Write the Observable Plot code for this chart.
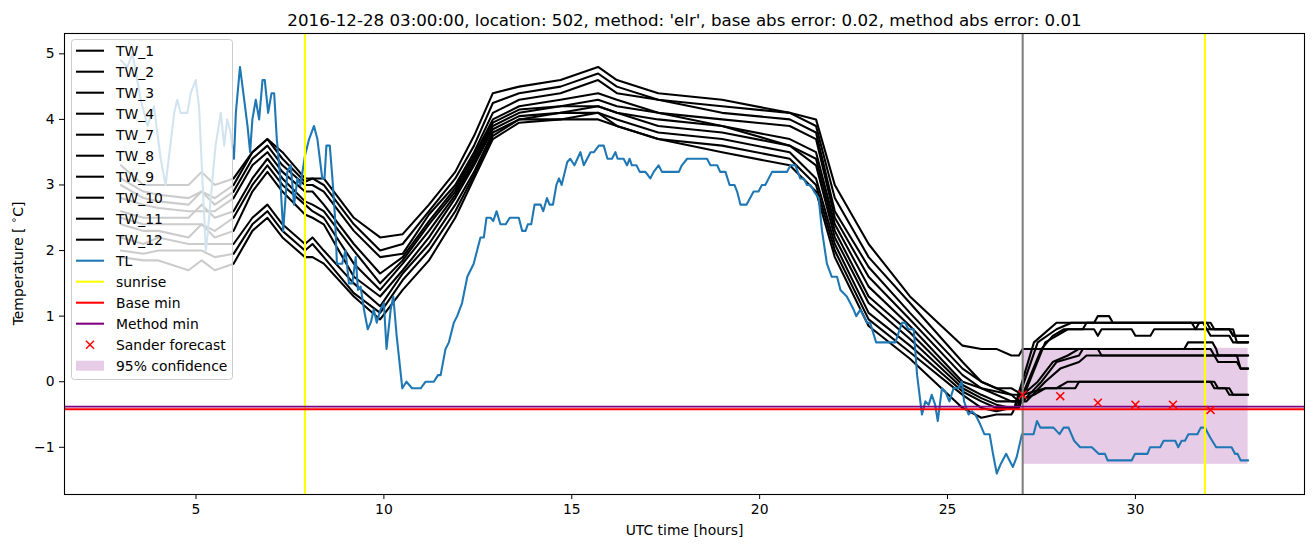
<!DOCTYPE html>
<html><head><meta charset="utf-8">
<script src="https://cdn.jsdelivr.net/npm/d3@7"></script>
<script src="https://cdn.jsdelivr.net/npm/@observablehq/plot@0.6"></script>
<style>body{margin:0;background:#fff;} svg{font-family:"DejaVu Sans",sans-serif;}</style>
</head><body><div id="chart"></div>
<script>
// ---------- data ----------
const titleText = "2016-12-28 03:00:00, location: 502, method: 'elr', base abs error: 0.02, method abs error: 0.01";
const xLabel = "UTC time [hours]";
const xTicks = [5, 10, 15, 20, 25, 30];
const yTicks = [-1, 0, 1, 2, 3, 4, 5];
const twLabels = ["TW_1","TW_2","TW_3","TW_4","TW_7","TW_8","TW_9","TW_10","TW_11","TW_12"];

// shared hour knots for the TW sensors (3 .. 26.7 h)
const knotX = [3.0,3.6,4.0,4.8,5.15,5.5,6.0,6.5,6.9,7.3,7.9,8.1,8.4,9.2,9.9,10.5,11.2,11.9,12.4,12.9,13.6,14.7,15.7,16.2,17.3,19.0,20.8,21.5,22.0,22.9,24.0,25.4,25.9,26.3,26.7];
const TW_1  = [3.3,3.0,3.0,3.0,3.2,3.0,3.1,3.5,3.7,3.5,3.1,3.1,3.1,2.5,2.2,2.25,2.7,3.2,3.75,4.4,4.5,4.6,4.8,4.6,4.4,4.3,4.1,4.0,3.0,2.1,1.3,0.55,0.5,0.5,0.4];
const TW_2  = [3.1,2.9,2.85,2.8,2.9,2.8,3.0,3.5,3.7,3.4,3.05,3.1,3.0,2.4,2.0,2.1,2.6,3.1,3.6,4.25,4.4,4.5,4.7,4.5,4.3,4.2,4.1,3.9,2.8,1.9,1.2,0.3,0.0,-0.1,-0.1];
const TW_3  = [3.0,2.8,2.75,2.7,2.9,2.7,2.9,3.4,3.6,3.3,3.0,3.0,2.9,2.3,1.9,1.95,2.55,3.0,3.5,4.1,4.3,4.4,4.6,4.4,4.3,4.1,4.0,3.8,2.6,1.75,1.05,0.2,0.0,-0.1,-0.2];
const TW_4  = [2.8,2.7,2.65,2.6,2.6,2.6,2.8,3.3,3.5,3.2,2.9,2.9,2.7,2.1,1.65,1.9,2.45,2.95,3.45,4.0,4.2,4.3,4.4,4.3,4.1,4.0,3.9,3.7,2.5,1.6,0.95,0.1,-0.1,-0.15,-0.2];
const TW_7  = [2.6,2.5,2.5,2.5,2.7,2.5,2.6,3.1,3.4,3.1,2.75,2.7,2.6,2.0,1.5,1.85,2.4,2.9,3.4,3.95,4.15,4.2,4.3,4.2,4.1,3.9,3.7,3.5,2.4,1.45,0.85,0.0,-0.1,-0.2,-0.3];
const TW_8  = [2.5,2.4,2.4,2.4,2.4,2.3,2.5,3.0,3.3,3.0,2.7,2.6,2.5,1.8,1.4,1.8,2.3,2.85,3.35,3.9,4.1,4.2,4.2,4.1,4.0,3.9,3.6,3.4,2.3,1.3,0.75,-0.05,-0.2,-0.3,-0.3];
const TW_9  = [2.4,2.3,2.3,2.2,2.4,2.2,2.3,2.9,3.2,2.9,2.55,2.5,2.4,1.6,1.3,1.7,2.2,2.8,3.3,3.85,4.05,4.1,4.2,4.1,3.9,3.8,3.6,3.3,2.2,1.2,0.65,-0.1,-0.25,-0.35,-0.4];
const TW_10 = [2.2,2.1,2.2,2.1,2.1,2.1,2.1,2.5,2.7,2.4,2.1,2.2,2.0,1.5,1.15,1.65,2.1,2.7,3.2,3.8,4.0,4.1,4.1,4.0,3.8,3.7,3.5,3.1,2.1,1.05,0.55,-0.15,-0.3,-0.4,-0.4];
const TW_11 = [2.0,1.95,2.0,2.0,2.0,1.9,1.95,2.4,2.6,2.3,2.0,2.1,1.9,1.35,1.05,1.55,2.0,2.6,3.15,3.75,4.0,4.0,4.1,3.9,3.7,3.6,3.4,3.0,2.0,0.95,0.45,-0.2,-0.4,-0.45,-0.4];
const TW_12 = [1.9,1.85,1.85,1.7,1.85,1.7,1.8,2.3,2.5,2.2,1.9,1.9,1.8,1.3,0.95,1.4,1.85,2.5,3.1,3.7,3.95,4.0,4.0,3.9,3.7,3.5,3.3,2.9,1.9,0.85,0.35,-0.4,-0.55,-0.5,-0.5];
// later readings [hour, value] after 26.7 h
const TW_1_late  = [[26.9,0.4],[27.0,0.5],[31.3,0.5],[31.4,0.6],[32.05,0.6],[32.15,0.5],[32.2,0.4],[32.7,0.4],[32.8,0.2],[33.0,0.2]];
const TW_2_late  = [[27.0,-0.2],[27.6,-0.1],[28.4,-0.1],[28.5,0.0],[32.1,0.0],[32.2,-0.1],[32.5,-0.1],[32.6,-0.2],[33.0,-0.2]];
const TW_3_late  = [[26.9,-0.3],[27.3,-0.2],[27.6,-0.1],[27.9,-0.1],[28.2,0.0],[32.0,0.0],[32.1,-0.1],[32.4,-0.1],[32.5,-0.2],[33.0,-0.2]];
const TW_4_late  = [[27.0,-0.2],[27.4,0.0],[27.8,0.3],[28.2,0.4],[28.5,0.5],[32.0,0.5],[32.1,0.4],[33.0,0.4]];
const TW_7_late  = [[27.0,-0.3],[27.5,0.0],[27.9,0.3],[28.5,0.4],[28.6,0.5],[29.0,0.5],[29.1,0.4],[32.1,0.4],[32.2,0.3],[32.7,0.3],[32.8,0.2],[33.0,0.2]];
const TW_8_late  = [[27.1,-0.3],[27.6,0.0],[28.0,0.2],[28.5,0.3],[28.7,0.4],[32.2,0.4],[33.0,0.4]];
const TW_9_late  = [[26.9,-0.4],[27.6,0.6],[28.2,0.8],[28.9,0.8],[29.0,0.7],[29.1,0.8],[29.9,0.8],[30.0,0.7],[30.4,0.7],[30.5,0.8],[31.9,0.8],[32.0,0.7],[32.5,0.7],[32.6,0.6],[33.0,0.6]];
const TW_10_late = [[26.85,-0.4],[27.5,0.5],[27.8,0.7],[28.1,0.8],[28.6,0.8],[28.7,0.9],[31.5,0.9],[31.6,0.8],[31.7,0.9],[32.0,0.9],[32.1,0.8],[32.6,0.8],[32.7,0.6],[33.0,0.6]];
const TW_11_late = [[26.8,-0.4],[27.4,0.6],[27.9,0.8],[28.3,0.9],[31.8,0.9],[31.9,0.8],[32.5,0.8],[32.6,0.7],[33.0,0.7]];
const TW_12_late = [[26.75,-0.45],[27.3,0.6],[27.9,0.9],[28.9,0.9],[29.0,1.0],[29.3,1.0],[29.4,0.9],[31.9,0.9],[32.0,0.8],[32.5,0.8],[32.6,0.7],[33.0,0.7]];

// TL sensor [hour, value]
const TL = [[3.0,4.9],[3.17,4.8],[3.31,5.0],[3.53,4.3],[3.71,3.9],[3.88,4.2],[4.06,3.4],[4.19,3.0],[4.42,4.1],[4.5,4.3],[4.59,4.1],[4.77,4.1],[4.86,4.4],[4.99,4.6],[5.08,4.2],[5.17,3.1],[5.26,2.0],[5.3,2.2],[5.44,3.1],[5.52,3.6],[5.66,4.1],[5.75,3.6],[5.83,4.0],[5.92,3.8],[6.01,3.4],[6.06,4.1],[6.17,4.8],[6.26,4.4],[6.37,3.9],[6.44,3.5],[6.5,4.0],[6.59,4.3],[6.68,4.0],[6.77,4.6],[6.83,4.6],[6.92,4.1],[7.01,4.4],[7.08,4.4],[7.15,3.7],[7.23,3.2],[7.32,2.3],[7.43,3.2],[7.52,3.3],[7.61,2.7],[7.7,3.1],[7.78,3.0],[7.9,3.45],[8.01,3.7],[8.14,3.9],[8.23,3.7],[8.36,3.1],[8.42,3.1],[8.47,3.6],[8.56,3.6],[8.63,3.1],[8.7,2.5],[8.75,1.8],[8.89,1.8],[8.98,2.0],[9.07,1.5],[9.16,1.5],[9.25,1.9],[9.31,1.4],[9.38,1.45],[9.47,1.1],[9.57,0.8],[9.65,0.9],[9.73,1.1],[9.81,0.9],[9.91,1.1],[10.0,1.2],[10.07,0.5],[10.18,1.1],[10.25,1.3],[10.34,0.7],[10.49,-0.1],[10.6,0.0],[10.75,-0.1],[10.98,-0.1],[11.11,0.0],[11.33,0.0],[11.44,0.1],[11.51,0.1],[11.64,0.5],[11.73,0.6],[11.86,0.9],[11.95,1.0],[12.08,1.2],[12.22,1.6],[12.39,1.8],[12.57,2.2],[12.66,2.2],[12.73,2.5],[12.84,2.5],[12.91,2.45],[13.0,2.6],[13.1,2.4],[13.24,2.4],[13.35,2.5],[13.59,2.5],[13.68,2.3],[13.77,2.3],[13.83,2.4],[13.92,2.4],[14.01,2.7],[14.17,2.7],[14.24,2.6],[14.34,2.8],[14.41,2.7],[14.5,2.7],[14.59,3.0],[14.66,3.1],[14.73,3.0],[14.88,3.35],[14.96,3.4],[15.07,3.3],[15.23,3.5],[15.32,3.3],[15.41,3.4],[15.5,3.5],[15.59,3.5],[15.72,3.6],[15.85,3.6],[15.95,3.4],[16.07,3.4],[16.16,3.5],[16.22,3.4],[16.38,3.4],[16.47,3.3],[16.54,3.4],[16.6,3.3],[16.72,3.3],[16.81,3.2],[16.96,3.2],[17.09,3.1],[17.18,3.2],[17.31,3.3],[17.4,3.2],[17.85,3.2],[17.93,3.3],[18.07,3.4],[18.6,3.4],[18.69,3.3],[18.87,3.3],[18.95,3.2],[19.09,3.2],[19.2,3.0],[19.33,3.0],[19.4,2.9],[19.49,2.7],[19.65,2.7],[19.84,2.9],[19.97,2.9],[20.06,3.0],[20.15,3.0],[20.33,3.2],[20.73,3.2],[20.82,3.3],[20.95,3.3],[21.08,3.1],[21.17,3.1],[21.26,3.0],[21.35,3.0],[21.45,2.9],[21.57,2.8],[21.66,2.3],[21.79,1.8],[21.92,1.6],[22.06,1.6],[22.15,1.4],[22.32,1.3],[22.41,1.2],[22.5,1.1],[22.57,1.0],[22.68,1.1],[22.77,1.0],[22.86,0.9],[22.94,0.9],[23.1,0.6],[23.21,0.6],[23.61,0.6],[23.7,0.75],[23.79,0.9],[23.87,0.9],[23.96,0.8],[24.1,0.8],[24.19,0.1],[24.32,-0.5],[24.41,-0.3],[24.5,-0.35],[24.58,-0.2],[24.67,-0.35],[24.74,-0.6],[24.85,-0.1],[24.94,-0.15],[25.05,-0.3],[25.16,-0.1],[25.29,-0.1],[25.38,0.0],[25.44,-0.3],[25.56,-0.5],[25.65,-0.45],[25.74,-0.5],[25.87,-0.65],[25.98,-0.8],[26.12,-0.8],[26.21,-1.1],[26.31,-1.4],[26.42,-1.25],[26.56,-1.1],[26.65,-1.2],[26.74,-1.3],[26.84,-1.15],[26.98,-0.8],[27.07,-0.8],[27.29,-0.8],[27.38,-0.6],[27.47,-0.7],[27.82,-0.7],[27.98,-0.8],[28.09,-0.7],[28.22,-0.7],[28.37,-0.9],[28.53,-1.0],[28.84,-1.0],[29.02,-1.1],[29.19,-1.1],[29.26,-1.2],[29.9,-1.2],[29.99,-1.1],[30.32,-1.1],[30.39,-1.0],[30.66,-1.0],[30.75,-0.9],[31.06,-0.9],[31.14,-1.0],[31.23,-0.9],[31.32,-0.9],[31.41,-0.8],[31.65,-0.8],[31.74,-0.7],[31.85,-0.7],[31.99,-0.85],[32.15,-1.0],[32.56,-1.0],[32.65,-1.1],[32.72,-1.1],[32.8,-1.2],[33.0,-1.2]];

const sunrise = [7.9, 31.85];
const forecastTime = [27.0];
const baseMin = [-0.42];
const methodMin = [-0.38];
const forecastHours = [27, 28, 29, 30, 31, 32];
const forecastValues = [-0.2, -0.22, -0.32, -0.35, -0.35, -0.43];
const confidence = [{x1: 27.0, x2: 33.0, y1: -1.26, y2: 0.51}];
const legendLabels = [...twLabels, "TL", "sunrise", "Base min", "Method min", "Sander forecast", "95% confidence"];

// ---------- build tables ----------
const twEarly = [TW_1,TW_2,TW_3,TW_4,TW_7,TW_8,TW_9,TW_10,TW_11,TW_12];
const twLate = [TW_1_late,TW_2_late,TW_3_late,TW_4_late,TW_7_late,TW_8_late,TW_9_late,TW_10_late,TW_11_late,TW_12_late];
const twData = [];
twLabels.forEach((lab, i) => {
  knotX.forEach((x, j) => { if (twEarly[i][j] != null) twData.push({series: lab, x, y: twEarly[i][j]}); });
  twLate[i].forEach(([x, y]) => twData.push({series: lab, x, y}));
});
const tlData = TL.map(([x, y]) => ({x, y}));
const fcData = forecastHours.map((x, i) => ({x, y: forecastValues[i]}));

const fmt = d => d < 0 ? "\u2212" + Math.abs(d) : String(d);
const LW = 2.08;

const plot = Plot.plot({
  width: 1313, height: 547,
  marginLeft: 64, marginRight: 9, marginTop: 33, marginBottom: 53,
  style: {fontFamily: "DejaVu Sans", fontSize: "13.9px", background: "white", color: "black", overflow: "visible"},
  x: {domain: [1.5, 34.5]},
  y: {domain: [-1.72, 5.31]},
  marks: [
    Plot.rect(confidence, {x1: "x1", x2: "x2", y1: "y1", y2: "y2", fill: "purple", fillOpacity: 0.2}),
    Plot.line(twData, {x: "x", y: "y", z: "series", stroke: "black", strokeWidth: LW}),
    Plot.line(tlData, {x: "x", y: "y", stroke: "#1f77b4", strokeWidth: LW}),
    Plot.ruleX(forecastTime, {stroke: "gray", strokeWidth: LW}),
    Plot.ruleX(sunrise, {stroke: "yellow", strokeWidth: LW}),
    Plot.ruleY(baseMin, {stroke: "red", strokeWidth: 1.8}),
    Plot.ruleY(methodMin, {stroke: "purple", strokeWidth: 1.8}),
    Plot.dot(fcData, {x: "x", y: "y", symbol: "times", stroke: "red", r: 3.7, strokeWidth: 1.5}),
    Plot.frame({stroke: "black", strokeWidth: 1.1}),
    Plot.axisX({ticks: xTicks, tickFormat: fmt, tickSize: 5, tickPadding: 5, label: null}),
    Plot.axisY({ticks: yTicks, tickFormat: fmt, tickSize: 5, tickPadding: 5, label: null}),
    Plot.text([titleText], {text: d => d, frameAnchor: "top", lineAnchor: "bottom", dy: -8, fontSize: 16.67}),
    Plot.text([xLabel], {text: d => d, frameAnchor: "bottom", lineAnchor: "top", dy: 31, fontSize: 13.9})
  ]
});
document.getElementById("chart").appendChild(plot);

// ---------- y label and legend ----------
const svg = d3.select(plot);
const yl = svg.append("text")
  .attr("transform", "translate(18,263.5) rotate(-90)")
  .attr("text-anchor", "middle").attr("dominant-baseline", "central")
  .attr("font-size", 13.9).attr("fill", "black");
yl.append("tspan").text("Temperature [ ");
yl.append("tspan").text("\u2218").attr("font-size", 10).attr("dy", -5);
yl.append("tspan").text("C]").attr("dy", 5);

const lg = svg.append("g").attr("text-anchor", "start");
lg.append("rect").attr("x", 71.5).attr("y", 39.5).attr("width", 161).attr("height", 340).attr("rx", 3)
  .attr("fill", "white").attr("fill-opacity", 0.8).attr("stroke", "#cccccc").attr("stroke-width", 1);
const legendColor = i => i < 10 ? "black" : ["#1f77b4", "yellow", "red", "purple"][i - 10];
legendLabels.forEach((lab, i) => {
  const cy = 50.7 + 21 * i;
  if (i < 14) {
    lg.append("line").attr("x1", 76).attr("x2", 104).attr("y1", cy).attr("y2", cy)
      .attr("stroke", legendColor(i)).attr("stroke-width", LW);
  } else if (i === 14) {
    lg.append("path").attr("d", `M${90-4},${cy-4}L${90+4},${cy+4}M${90-4},${cy+4}L${90+4},${cy-4}`)
      .attr("stroke", "red").attr("stroke-width", 1.5);
  } else {
    lg.append("rect").attr("x", 76).attr("y", cy - 5).attr("width", 28).attr("height", 10)
      .attr("fill", "purple").attr("fill-opacity", 0.2);
  }
  lg.append("text").attr("x", 116).attr("y", cy).attr("text-anchor", "start").attr("dominant-baseline", "central")
    .attr("font-size", 13.9).attr("fill", "black").text(lab);
});
</script>
</body></html>
